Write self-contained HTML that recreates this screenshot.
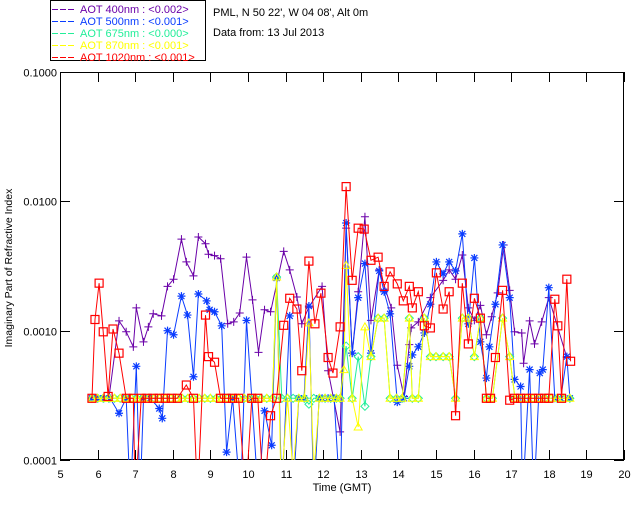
<!DOCTYPE html>
<html><head><meta charset="utf-8"><style>
body{margin:0;background:#fff;width:640px;height:512px;overflow:hidden}
svg text{font-family:"Liberation Sans",sans-serif;font-size:11px}
</style></head><body>
<svg id="chart" width="640" height="512" xmlns="http://www.w3.org/2000/svg">
<defs><clipPath id="pc"><rect x="60" y="72" width="564" height="388"/></clipPath></defs>
<g>
<rect x="50.5" y="0.5" width="155" height="60" fill="none" stroke="#000"/>
<g id="leg"></g>
</g>
<text x="213" y="16">PML, N 50 22', W 04 08', Alt 0m</text>
<text x="213" y="36">Data from: 13 Jul 2013</text>
<rect x="60.5" y="72.5" width="563" height="387" fill="none" stroke="#000"/>
<g id="axes"></g>
<text x="342" y="491" text-anchor="middle">Time (GMT)</text>
<text transform="translate(12,268) rotate(-90)" text-anchor="middle" style="font-size:10.5px">Imaginary Part of Refractive Index</text>
<g id="series" clip-path="url(#pc)"></g>
</svg>
<script>
const xTicks=[5,6,7,8,9,10,11,12,13,14,15,16,17,18,19,20];
const yTicks=[0.0001,0.001,0.01,0.1];
const yTickLabels=["0.0001","0.0010","0.0100","0.1000"];
const legendLabels=["AOT  400nm : <0.002>","AOT  500nm : <0.001>","AOT  675nm : <0.000>","AOT  870nm : <0.001>","AOT 1020nm : <0.001>"];
const colors=["#6a00a8","#0a3cff","#22ee99","#ffff00","#ff0000"];
const markers=["plus","star","diamond","triangle","square"];

const t400=[5.85,6.0,6.15,6.3,6.57,6.76,6.95,7.03,7.22,7.35,7.48,7.70,7.86,8.02,8.23,8.36,8.55,8.68,8.87,8.95,9.11,9.27,9.46,9.62,9.78,9.96,10.12,10.28,10.44,10.60,10.95,11.11,11.30,11.43,11.62,11.97,12.13,12.45,12.61,12.77,12.93,13.11,13.27,13.49,13.81,13.97,14.15,14.29,14.34,14.53,14.85,15.19,15.35,15.52,15.70,15.86,16.02,16.18,16.34,16.48,16.64,16.80,16.96,17.09,17.28,17.33,17.49,17.62,17.81,18.00,18.48];
const v400=[3e-4,3e-4,3e-4,3e-4,1.19e-3,0.98e-3,0.75e-3,1.5e-3,0.82e-3,1.07e-3,1.35e-3,1.3e-3,2.2e-3,2.5e-3,5.1e-3,3.4e-3,2.65e-3,5.3e-3,4.7e-3,3.9e-3,3.8e-3,3.6e-3,1.13e-3,1.17e-3,1.37e-3,3.7e-3,1.73e-3,0.68e-3,1.45e-3,1.4e-3,4.1e-3,2.95e-3,1.82e-3,1.13e-3,1.52e-3,2.2e-3,0.49e-3,0.165e-3,6.2e-3,0.67e-3,2.0e-3,7.6e-3,1.2e-3,2.95e-3,1.5e-3,0.54e-3,0.31e-3,0.78e-3,1.05e-3,1.17e-3,1.8e-3,2.45e-3,2.95e-3,2.5e-3,3.85e-3,1.5e-3,1.2e-3,1.57e-3,0.93e-3,1.28e-3,1.96e-3,4.6e-3,2.05e-3,0.98e-3,0.96e-3,0.56e-3,1.19e-3,0.79e-3,1.17e-3,1.8e-3,0.62e-3];

const t500=[5.85,6.01,6.17,6.33,6.57,6.76,6.87,7.03,7.13,7.22,7.4,7.64,7.72,7.86,8.02,8.23,8.39,8.55,8.68,8.9,8.98,9.11,9.3,9.43,9.59,9.8,9.96,10.1,10.28,10.44,10.63,10.76,10.9,11.11,11.19,11.35,11.49,11.62,11.75,11.89,11.97,12.13,12.29,12.45,12.61,12.77,12.93,13.11,13.27,13.49,13.62,13.78,13.97,14.15,14.29,14.37,14.53,14.69,14.85,15.01,15.19,15.35,15.52,15.7,15.86,16.02,16.18,16.34,16.42,16.58,16.77,16.96,17.09,17.25,17.3,17.49,17.6,17.76,17.84,18.0,18.16,18.32,18.48,18.56];
const v500=[3e-4,3e-4,3e-4,3e-4,0.23e-3,3e-4,0.5e-4,0.53e-3,0.5e-4,3e-4,3e-4,0.25e-3,0.21e-3,1.0e-3,0.93e-3,1.85e-3,1.32e-3,0.44e-3,1.92e-3,1.7e-3,1.45e-3,1.4e-3,1.09e-3,0.115e-3,3e-4,0.5e-4,1.2e-3,3e-4,0.5e-4,0.24e-3,0.13e-3,2.55e-3,0.5e-4,1.3e-3,0.5e-4,3e-4,3e-4,1.55e-3,0.5e-4,3e-4,3e-4,3e-4,3e-4,0.5e-4,6.8e-3,0.67e-3,1.8e-3,3.3e-3,0.67e-3,2.9e-3,2.0e-3,1.35e-3,0.28e-3,0.3e-3,0.53e-3,0.65e-3,0.75e-3,0.96e-3,1.6e-3,3.4e-3,2.75e-3,3.4e-3,2.9e-3,5.6e-3,1.13e-3,3.65e-3,0.82e-3,0.43e-3,0.75e-3,1.6e-3,4.6e-3,1.8e-3,0.42e-3,0.37e-3,0.5e-4,0.5e-3,0.5e-4,0.47e-3,0.5e-3,2.15e-3,3e-4,3e-4,0.63e-3,3e-4];

const t870=[5.85,6.0,6.15,6.3,6.45,6.6,6.75,6.9,7.05,7.2,7.35,7.5,7.65,7.8,7.95,8.1,8.25,8.4,8.55,8.7,8.85,9.0,9.15,9.3,9.45,9.6,9.75,9.9,10.05,10.2,10.35,10.5,10.65,10.76,10.88,11.05,11.2,11.35,11.5,11.62,11.75,11.9,12.05,12.2,12.35,12.45,12.55,12.61,12.77,12.93,13.11,13.27,13.46,13.62,13.78,13.95,14.1,14.29,14.37,14.53,14.69,14.85,15.0,15.19,15.35,15.52,15.7,15.86,16.02,16.18,16.34,16.5,16.77,16.96,17.1,17.26,17.42,17.58,17.74,17.9,18.06,18.22,18.38,18.56];
const v870=[3e-4,3e-4,3e-4,3e-4,3e-4,3e-4,3e-4,3e-4,3e-4,3e-4,3e-4,3e-4,3e-4,3e-4,3e-4,3e-4,3e-4,3e-4,3e-4,3e-4,3e-4,3e-4,3e-4,3e-4,3e-4,3e-4,3e-4,3e-4,3e-4,3e-4,3e-4,3e-4,3e-4,2.6e-3,0.6e-4,3e-4,0.8e-4,3e-4,3e-4,1.15e-3,0.8e-4,3e-4,3e-4,3e-4,3e-4,3e-4,0.5e-3,3.2e-3,3e-4,0.18e-3,1.07e-3,0.63e-3,1.25e-3,1.25e-3,3e-4,3e-4,3e-4,1.25e-3,3e-4,3e-4,1.25e-3,0.63e-3,0.63e-3,0.63e-3,0.63e-3,3e-4,1.25e-3,1.25e-3,0.63e-3,1.25e-3,3e-4,3e-4,1.25e-3,0.63e-3,3e-4,3e-4,3e-4,3e-4,3e-4,3e-4,3e-4,3e-4,3e-4,3e-4];

const t675=[5.85,6.0,6.15,6.3,6.45,6.6,6.75,6.9,7.05,7.2,7.35,7.5,7.65,7.8,7.95,8.1,8.25,8.4,8.55,8.7,8.85,9.0,9.15,9.3,9.45,9.6,9.75,9.9,10.05,10.2,10.35,10.5,10.65,10.76,10.9,11.05,11.2,11.35,11.5,11.62,11.75,11.9,12.05,12.2,12.35,12.45,12.61,12.77,12.93,13.11,13.27,13.46,13.62,13.78,13.95,14.1,14.29,14.37,14.53,14.69,14.85,15.0,15.19,15.35,15.52,15.7,15.86,16.02,16.18,16.34,16.5,16.77,16.96,17.1,17.26,17.42,17.58,17.74,17.9,18.06,18.22,18.38,18.56];
const v675=[3e-4,3e-4,3e-4,3e-4,3e-4,3e-4,3e-4,3e-4,3e-4,3e-4,3e-4,3e-4,3e-4,3e-4,3e-4,3e-4,3e-4,3e-4,3e-4,3e-4,3e-4,3e-4,3e-4,3e-4,3e-4,3e-4,3e-4,3e-4,3e-4,3e-4,3e-4,3e-4,3e-4,2.6e-3,3e-4,3e-4,3e-4,3e-4,3e-4,0.27e-3,3e-4,3e-4,3e-4,3e-4,3e-4,3e-4,0.76e-3,3e-4,0.63e-3,0.26e-3,0.63e-3,1.25e-3,1.25e-3,3e-4,3e-4,3e-4,1.25e-3,3e-4,3e-4,1.25e-3,0.63e-3,0.63e-3,0.63e-3,0.63e-3,3e-4,1.25e-3,1.25e-3,0.63e-3,1.25e-3,3e-4,3e-4,1.25e-3,0.63e-3,3e-4,3e-4,3e-4,3e-4,3e-4,3e-4,3e-4,3e-4,3e-4,3e-4];

const t1020=[5.85,5.93,6.04,6.15,6.28,6.41,6.57,6.76,6.95,7.0,7.16,7.32,7.48,7.64,7.8,7.96,8.12,8.36,8.55,8.66,8.87,8.95,9.11,9.27,9.43,9.59,9.75,9.94,10.1,10.26,10.42,10.6,10.76,10.95,11.11,11.3,11.43,11.62,11.78,11.94,12.13,12.26,12.45,12.61,12.77,12.93,13.09,13.27,13.46,13.62,13.78,13.97,14.13,14.29,14.37,14.53,14.69,14.85,15.01,15.19,15.35,15.52,15.7,15.86,16.02,16.18,16.34,16.45,16.58,16.77,16.96,17.09,17.25,17.41,17.57,17.73,17.89,18.0,18.16,18.24,18.34,18.48,18.58];
const v1020=[3e-4,1.22e-3,2.33e-3,0.98e-3,0.31e-3,1.03e-3,0.67e-3,3e-4,3e-4,0.5e-4,3e-4,3e-4,3e-4,3e-4,3e-4,3e-4,3e-4,0.38e-3,3e-4,0.5e-4,1.32e-3,0.63e-3,0.57e-3,3e-4,3e-4,3e-4,3e-4,0.5e-4,3e-4,3e-4,0.5e-4,0.22e-3,3e-4,1.1e-3,1.78e-3,1.47e-3,0.49e-3,3.45e-3,1.13e-3,1.95e-3,0.62e-3,0.47e-3,1.07e-3,13e-3,2.45e-3,6.2e-3,6.1e-3,3.5e-3,3.7e-3,2.2e-3,2.85e-3,2.3e-3,1.7e-3,2.2e-3,1.5e-3,2.0e-3,1.09e-3,1.05e-3,2.8e-3,1.47e-3,2.0e-3,0.22e-3,2.33e-3,0.79e-3,1.78e-3,1.25e-3,3e-4,3e-4,0.62e-3,2.05e-3,0.29e-3,3e-4,3e-4,3e-4,3e-4,3e-4,3e-4,3e-4,1.75e-3,1.09e-3,3e-4,2.5e-3,0.58e-3];

const seriesT=[t400,t500,t675,t870,t1020];
const seriesV=[v400,v500,v675,v870,v1020];
const seriesNames=["aot-400nm","aot-500nm","aot-675nm","aot-870nm","aot-1020nm"];

const X0=60,X1=624,Y0=460,Y1=72;
function xs(t){return X0+(t-5)/15*(X1-X0);}
function ys(v){return Y0-(Math.log10(v)+4)/3*(Y0-Y1);}
const NS="http://www.w3.org/2000/svg";
function mk(tag,attrs,parent){const e=document.createElementNS(NS,tag);for(const k in attrs)e.setAttribute(k,attrs[k]);parent.appendChild(e);return e;}

const axes=document.getElementById('axes');
xTicks.forEach(function(t){
  const x=Math.round(xs(t))+0.5;
  const a=mk('line',{x1:x,x2:x,y1:460,y2:450,stroke:'#000'},axes);
  
  
  const b=mk('line',{x1:x,x2:x,y1:72,y2:82,stroke:'#000'},axes);
  
  
  const l=mk('text',{x:x,y:478,'text-anchor':'middle'},axes);
  l.textContent=String(t);
  
  
});
yTicks.forEach(function(v,i){
  const y=Math.round(ys(v))+0.5;
  const a=mk('line',{x1:60,x2:70,y1:y,y2:y,stroke:'#000'},axes);
  
  
  const b=mk('line',{x1:614,x2:624,y1:y,y2:y,stroke:'#000'},axes);
  
  
  const l=mk('text',{x:57,y:y+4,'text-anchor':'end'},axes);
  l.textContent=yTickLabels[i];
  
  
});

const leg=document.getElementById('leg');
legendLabels.forEach(function(s,i){
  const y=9+i*12;
  const ln=mk('line',{x1:52,x2:74,y1:y+0.5,y2:y+0.5,stroke:colors[i],'stroke-dasharray':'6,2'},leg);
  
  
  const tx=mk('text',{x:80,y:y+4,fill:colors[i],'xml:space':'preserve'},leg);
  tx.textContent=s;
  
  
});

function marker(g,type,x,y,c){
  let e;
  if(type==='plus'){e=mk('path',{d:`M${x-4} ${y}H${x+4}M${x} ${y-4}V${y+4}`,stroke:c,fill:'none'},g);}
  else if(type==='star'){e=mk('path',{d:`M${x-4} ${y}H${x+4}M${x} ${y-4}V${y+4}M${x-3} ${y-3}L${x+3} ${y+3}M${x-3} ${y+3}L${x+3} ${y-3}`,stroke:c,fill:'none','stroke-width':1.2},g);}
  else if(type==='diamond'){e=mk('path',{d:`M${x} ${y-4}L${x+4} ${y}L${x} ${y+4}L${x-4} ${y}Z`,stroke:c,fill:'none'},g);}
  else if(type==='triangle'){e=mk('path',{d:`M${x} ${y-4}L${x+4} ${y+3}L${x-4} ${y+3}Z`,stroke:c,fill:'none'},g);}
  else {e=mk('rect',{x:x-4,y:y-4,width:8,height:8,stroke:c,fill:'none','stroke-width':1.2},g);}
  
  
}

const sg=document.getElementById('series');
seriesT.forEach(function(ts,i){
  const g=mk('g',{},sg);
  
  
  const vs=seriesV[i];
  const pts=ts.map(function(t,j){return xs(t).toFixed(1)+','+ys(vs[j]).toFixed(1);}).join(' ');
  const pl=mk('polyline',{points:pts,fill:'none',stroke:colors[i],'stroke-width':1},g);
  
  
  ts.forEach(function(t,j){marker(g,markers[i],xs(t),ys(vs[j]),colors[i]);});
});
</script>
</body></html>
